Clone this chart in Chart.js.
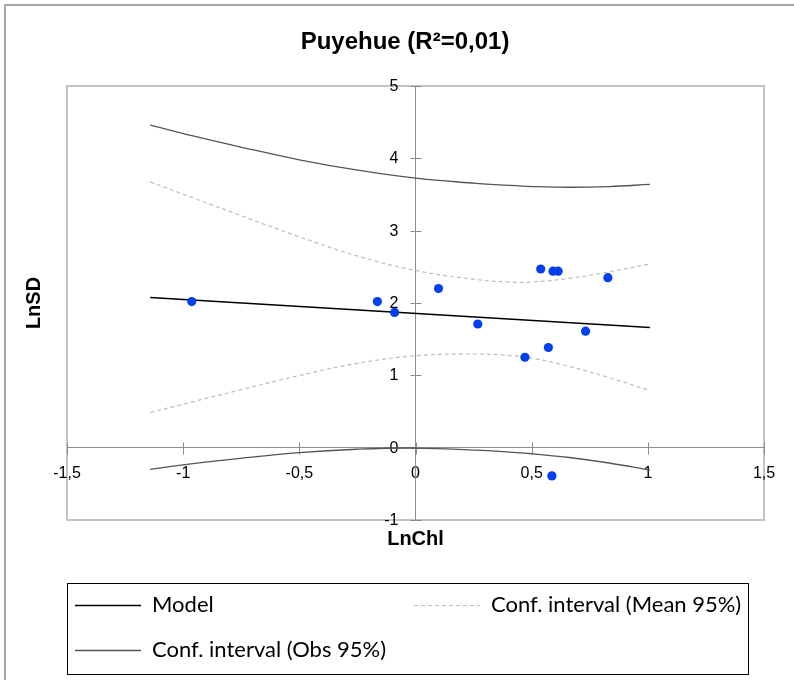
<!DOCTYPE html>
<html>
<head>
<meta charset="utf-8">
<script src="https://cdn.jsdelivr.net/npm/chart.js@4/dist/chart.umd.min.js"></script>
<style>
  body { margin: 0; background: #fff; }
  #frame { position: absolute; left: 4px; top: 4px; width: 800px; height: 700px;
           border-left: 2px solid #a6a6a6; border-top: 2px solid #a6a6a6; }
  #wrap { position: absolute; left: 0; top: 0; }
</style>
</head>
<body>
<div id="frame"></div>
<div id="wrap"><canvas id="chart" width="794" height="680"></canvas></div>
<script>
// Observaciones (LnChl, LnSD)
const obsX = [-0.963, -0.164, -0.09, 0.099, 0.268, 0.471, 0.539, 0.572, 0.592, 0.614, 0.732, 0.828, 0.587];
const obsY = [2.02, 2.02, 1.87, 2.20, 1.71, 1.25, 2.47, 1.385, 2.44, 2.44, 1.61, 2.35, -0.39];

// Recta del modelo
const modelX = [-1.142, 1.009];
const modelY = [2.076, 1.66];

// Bandas de confianza
const bandX = [-1.142, -0.958, -0.757, -0.5, -0.255, 0, 0.26, 0.403, 0.503, 0.661, 0.833, 1.009];
const meanUpper = [3.675, 3.455, 3.215, 2.915, 2.655, 2.45, 2.325, 2.29, 2.29, 2.34, 2.43, 2.54];
const meanLower = [0.485, 0.635, 0.797, 0.997, 1.163, 1.27, 1.295, 1.274, 1.236, 1.124, 0.968, 0.79];
const obsUpper = [4.46, 4.31, 4.16, 3.98, 3.84, 3.725, 3.655, 3.625, 3.61, 3.60, 3.61, 3.64];
const obsLower = [-0.30, -0.22, -0.148, -0.068, -0.022, -0.005, -0.035, -0.061, -0.084, -0.136, -0.212, -0.31];

const xTicks = [-1.5, -1, -0.5, 0, 0.5, 1, 1.5];
const yTicks = [-1, 0, 1, 2, 3, 4, 5];

const chartTitle = 'Puyehue (R²=0,01)';
const legendItems = ['Model', 'Conf. interval (Mean 95%)', 'Conf. interval (Obs 95%)'];

const toPoints = (xs, ys) => xs.map((x, i) => ({ x: x, y: ys[i] }));
const fmt = v => String(v).replace('.', ',');

const axisColor = '#8c8c8c';
const meanColor = '#bdbdbd';
const obsColor = '#555555';
const baseFont = '"Liberation Sans", Arial, sans-serif';

// Titulo, borde del area, marcas cruzadas, etiquetas del eje Y y leyenda
const extras = {
  id: 'extras',
  beforeDraw(chart) {
    const { ctx, chartArea: a } = chart;
    ctx.save();
    ctx.strokeStyle = '#c4c4c4';
    ctx.lineWidth = 2;
    ctx.strokeRect(a.left, a.top, a.right - a.left, a.bottom - a.top);
    ctx.font = 'bold 24px ' + baseFont;
    ctx.fillStyle = '#000';
    ctx.textAlign = 'center';
    ctx.textBaseline = 'middle';
    ctx.fillText(chartTitle, 405, 42);
    ctx.restore();
  },
  beforeDatasetsDraw(chart) {
    const { ctx, scales } = chart;
    ctx.save();
    ctx.strokeStyle = axisColor;
    ctx.lineWidth = 1;
    const y0 = Math.round(scales.y.getPixelForValue(0)) + 0.5;
    const x0 = Math.round(scales.x.getPixelForValue(0)) + 0.5;
    ctx.beginPath();
    xTicks.forEach(t => {
      const px = Math.round(scales.x.getPixelForValue(t)) + 0.5;
      ctx.moveTo(px, y0 - 6); ctx.lineTo(px, y0 + 6);
    });
    yTicks.forEach(t => {
      const py = Math.round(scales.y.getPixelForValue(t)) + 0.5;
      ctx.moveTo(x0 - 6, py); ctx.lineTo(x0 + 5, py);
    });
    ctx.stroke();
    ctx.font = '16px ' + baseFont;
    ctx.fillStyle = '#000';
    ctx.textAlign = 'right';
    ctx.textBaseline = 'middle';
    yTicks.forEach(t => {
      ctx.fillText(fmt(t), x0 - 18, scales.y.getPixelForValue(t) + 0.5);
    });
    ctx.restore();
  },
  afterDraw(chart) {
    const { ctx } = chart;
    const ds = chart.data.datasets;
    ctx.save();
    ctx.strokeStyle = '#000';
    ctx.lineWidth = 1;
    ctx.strokeRect(67.5, 583.5, 681, 91);
    const rows = [
      { x: 75, y: 605, d: ds[1] },
      { x: 414, y: 605, d: ds[2] },
      { x: 75, y: 650, d: ds[4] }
    ];
    ctx.font = '22px Lato';
    ctx.textBaseline = 'middle';
    ctx.fillStyle = '#000';
    rows.forEach((r, i) => {
      ctx.beginPath();
      ctx.strokeStyle = r.d.borderColor;
      ctx.lineWidth = r.d.borderWidth;
      ctx.setLineDash(r.d.borderDash || []);
      ctx.moveTo(r.x, r.y + 0.5);
      ctx.lineTo(r.x + 66, r.y + 0.5);
      ctx.stroke();
      ctx.setLineDash([]);
      ctx.fillText(legendItems[i], r.x + 77, r.y);
    });
    ctx.restore();
  }
};

const titleFont = { family: baseFont, size: 20, weight: 'bold' };

const lineDefaults = { showLine: true, pointRadius: 0, tension: 0.4 };

const ctx = document.getElementById('chart').getContext('2d');
new Chart(ctx, {
  type: 'scatter',
  data: {
    datasets: [
      {
        label: 'Observations',
        data: toPoints(obsX, obsY),
        backgroundColor: '#0040ee',
        borderColor: '#0040ee',
        pointRadius: 4.6,
        pointHoverRadius: 4.6,
        borderWidth: 0
      },
      Object.assign({
        label: legendItems[0],
        data: toPoints(modelX, modelY),
        borderColor: '#000000',
        borderWidth: 1.5
      }, lineDefaults),
      Object.assign({
        label: legendItems[1],
        data: toPoints(bandX, meanUpper),
        borderColor: meanColor,
        borderWidth: 1.2,
        borderDash: [4, 3]
      }, lineDefaults),
      Object.assign({
        label: legendItems[1] + ' low',
        data: toPoints(bandX, meanLower),
        borderColor: meanColor,
        borderWidth: 1.2,
        borderDash: [4, 3]
      }, lineDefaults),
      Object.assign({
        label: legendItems[2],
        data: toPoints(bandX, obsUpper),
        borderColor: obsColor,
        borderWidth: 1.3
      }, lineDefaults),
      Object.assign({
        label: legendItems[2] + ' low',
        data: toPoints(bandX, obsLower),
        borderColor: obsColor,
        borderWidth: 1.3
      }, lineDefaults)
    ]
  },
  options: {
    responsive: false,
    animation: false,
    layout: { padding: { left: 14, right: 30, top: 86, bottom: 121 } },
    plugins: {
      legend: { display: false },
      tooltip: { enabled: false },
      title: { display: false }
    },
    scales: {
      x: {
        type: 'linear',
        position: { y: 0 },
        min: -1.5,
        max: 1.5,
        afterBuildTicks: s => { s.ticks = xTicks.map(v => ({ value: v })); },
        ticks: { callback: fmt, color: '#000', font: { family: baseFont, size: 16 }, padding: 16, maxRotation: 0 },
        grid: { drawOnChartArea: false, drawTicks: false, color: axisColor },
        border: { color: axisColor, width: 1 }
      },
      y: {
        type: 'linear',
        position: { x: 0 },
        min: -1,
        max: 5,
        afterBuildTicks: s => { s.ticks = yTicks.map(v => ({ value: v })); },
        ticks: { display: false },
        grid: { drawOnChartArea: false, drawTicks: false, color: axisColor },
        border: { color: axisColor, width: 1 }
      },
      xt: {
        type: 'linear',
        position: 'bottom',
        min: -1.5,
        max: 1.5,
        ticks: { display: false },
        grid: { display: false, drawTicks: false },
        border: { display: false },
        title: { display: true, text: 'LnChl', color: '#000', font: titleFont, padding: { top: 7, bottom: 8 } }
      },
      yt: {
        type: 'linear',
        position: 'left',
        min: -1,
        max: 5,
        ticks: { display: false },
        grid: { display: false, drawTicks: false },
        border: { display: false },
        title: { display: true, text: 'LnSD', color: '#000', font: titleFont, padding: { top: 8, bottom: 21 } }
      }
    }
  },
  plugins: [extras]
});
</script>
</body>
</html>
